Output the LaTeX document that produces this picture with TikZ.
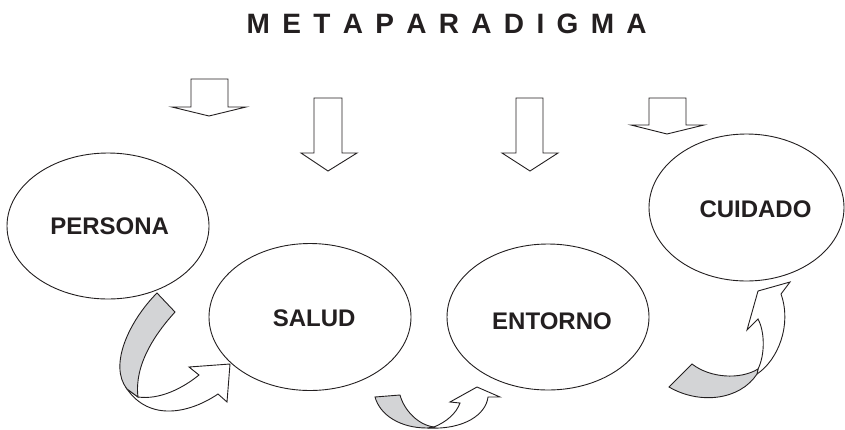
\documentclass[tikz,border=0pt]{standalone}
\usepackage{fontspec}
\setmainfont{Liberation Sans}
\usetikzlibrary{shapes.geometric}
\definecolor{ink}{RGB}{35,31,32}
\definecolor{ribbon}{RGB}{211,212,214}
\begin{document}
\begin{tikzpicture}[x=1pt,y=-1pt,
  outline/.style={draw=ink,line width=0.9pt,line join=miter},
  bubble/.style={ellipse,draw=ink,line width=0.9pt,inner sep=0pt,fill=white},
  lbl/.style={font=\bfseries\fontsize{24}{28}\selectfont,text=ink,anchor=base,inner sep=0pt},
  ttl/.style={font=\bfseries\fontsize{28}{32}\selectfont,text=ink,anchor=base,inner sep=0pt}]
\useasboundingbox (0,0) rectangle (845,429);

% title
\node[ttl] (title) at (446.7,33.3) {\spaceskip=12.33pt plus 0pt minus 0pt\relax M E T A P A R A D I G M A};

% down arrows
\draw[outline,fill=white] (191,79) -- (228,79) -- (228,107) -- (246,107) -- (209,116) -- (172,107) -- (191,107) -- cycle;
\draw[outline,fill=white] (314,98) -- (342,98) -- (342,153) -- (357,153) -- (328,171) -- (301,153) -- (314,153) -- cycle;
\draw[outline,fill=white] (516,98) -- (543,98) -- (543,153) -- (558,153) -- (530,171) -- (502,153) -- (516,153) -- cycle;
\draw[outline,fill=white] (649,98) -- (686,98) -- (686,125) -- (704,125) -- (667,134) -- (631,125) -- (649,125) -- cycle;

% ellipses
\node[bubble,minimum width=202pt,minimum height=146pt] (persona) at (108,226) {};
\node[bubble,minimum width=202pt,minimum height=147pt] (salud) at (310,317) {};
\node[bubble,minimum width=202pt,minimum height=146pt] (entorno) at (548,317) {};
\node[bubble,minimum width=195pt,minimum height=147pt] (cuidado) at (746.5,207.5) {};

% labels
\node[lbl] (tpersona) at (109.7,234) {PERSONA};
\node[lbl] (tsalud) at (314.2,326.7) {SALUD};
\node[lbl] (tentorno) at (552,329.3) {ENTORNO};
\node[lbl] (tcuidado) at (755.5,217.3) {CUIDADO};

% curved arrow 1 (PERSONA -> SALUD)
\draw[outline,fill=white] (138,397) .. controls (160,400) and (183,388) .. (199,375)
  -- (189,367) -- (230,364) -- (227,402) -- (218,394)
  .. controls (190,413) and (150,422) .. (127,389) -- cycle;
\draw[outline,fill=ribbon] (157,293) -- (175,312)
  .. controls (155,334) and (134,365) .. (138,397) -- (127,389)
  .. controls (108,365) and (130,320) .. (157,293) -- cycle;

% curved arrow 2 (SALUD -> ENTORNO)
\draw[outline,fill=white] (434,427) .. controls (446,422) and (456,414) .. (460,403)
  -- (450,402) -- (477,387) -- (500,397) -- (488,397)
  .. controls (486,414) and (465,430) .. (427,428) -- cycle;
\draw[outline,fill=ribbon] (375,397) -- (400,395)
  .. controls (404,410) and (418,425) .. (434,427) -- (427,428)
  .. controls (400,428) and (380,415) .. (375,397) -- cycle;

% curved arrow 3 (ENTORNO -> CUIDADO)
\draw[outline,fill=white] (758,369) .. controls (765,355) and (765,332) .. (758,319)
  -- (747,330) -- (758,291) -- (790,282) -- (781,294)
  .. controls (792,325) and (778,360) .. (757,374) -- cycle;
\draw[outline,fill=ribbon] (692,364) .. controls (710,378) and (740,380) .. (758,369)
  -- (757,374) .. controls (740,400) and (700,405) .. (669,387) -- cycle;
\end{tikzpicture}
\end{document}
